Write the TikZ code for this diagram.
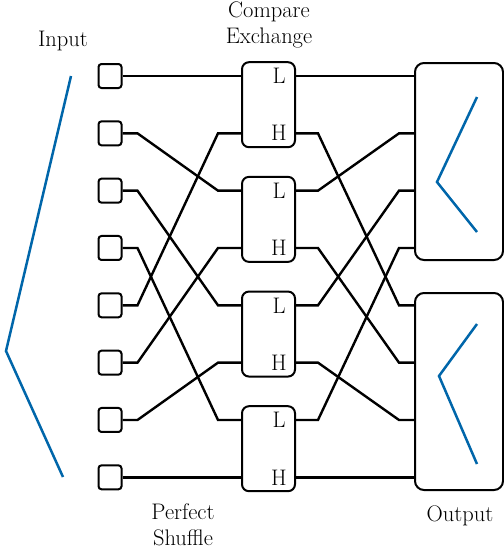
\documentclass[tikz,border=0pt]{standalone}
\usetikzlibrary{positioning}
\definecolor{chevblue}{RGB}{0,102,170}

\begin{document}
\begin{tikzpicture}[x=1pt,y=-1pt,line width=2.4pt,
  port/.style={draw,line width=2pt,rounded corners=3pt,minimum width=23pt,minimum height=24pt,inner sep=0pt},
  cebox/.style={draw,line width=2pt,rounded corners=7pt,minimum width=53pt,minimum height=85pt,inner sep=0pt},
  outbox/.style={draw,line width=2pt,rounded corners=9pt,minimum width=88pt,minimum height=197pt,inner sep=0pt},
  lbl/.style={font=\fontsize{22.5}{25.5}\selectfont,align=center,inner sep=0pt},
  chev/.style={chevblue,line width=2.5pt}]
\useasboundingbox (0,0) rectangle (504,550);

% inputs, ports of the compare-exchange boxes and of the outputs
\foreach \i in {0,...,7}{
  \node[port] (in\i) at (110,{76+57.33*\i}) {};
  \coordinate (ci\i) at (242,{76+57.33*\i});
  \coordinate (co\i) at (295,{76+57.33*\i});
  \coordinate (oi\i) at (415,{76+57.33*\i});
}
\foreach \k in {0,...,3}{
  \node[cebox] (ce\k) at (268.5,{104.7+114.67*\k}) {};
  \node[lbl] (l\k) at (279,{76+114.67*\k}) {L};
  \node[lbl] (h\k) at (279,{133.3+114.67*\k}) {H};
}
\node[outbox] (out0) at (459,161.5) {};
\node[outbox] (out1) at (459,391.5) {};

% perfect shuffle
\foreach \s/\t in {0/0,1/2,2/4,3/6,4/1,5/3,6/5,7/7}
  \draw (in\s.east) -- ++(15,0) -- ([xshift=-24pt]ci\t) -- (ci\t);
% unshuffle to the outputs
\foreach \s/\t in {0/0,1/4,2/1,3/5,4/2,5/6,6/3,7/7}
  \draw (co\s) -- ++(23,0) -- ([xshift=-16pt]oi\t) -- (oi\t);

\draw[chev] (71,76) -- (6,351) -- (63,477);
\draw[chev] (477,97) -- (437,182) -- (477,232);
\draw[chev] (477,324) -- (439,376) -- (477,464);

\node[lbl] (input) at (63,41) {Input};
\node[lbl] (cmpx) at (269,25) {Compare\\Exchange};
\node[lbl] (shuf) at (183,525) {Perfect\\Shuffle};
\node[lbl] (output) at (460,516) {Output};
\end{tikzpicture}
\end{document}
